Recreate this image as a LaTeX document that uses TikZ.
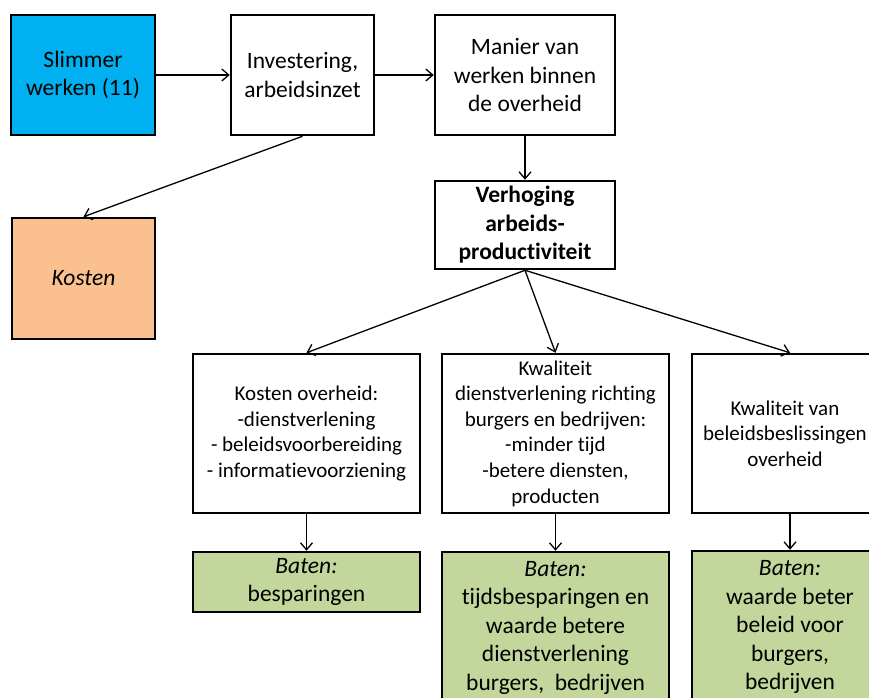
\documentclass[tikz,border=0pt]{standalone}
\usepackage{fontspec}
\setmainfont{Carlito}[Ligatures={TeX,NoCommon}]
\usetikzlibrary{arrows.meta}
\definecolor{cyanbox}{HTML}{00B0F0}
\definecolor{peachbox}{HTML}{FAC090}
\definecolor{greenbox}{HTML}{C3D69B}
\begin{document}
\begin{tikzpicture}[x=1pt,y=-1pt,
  box/.style={draw=black, line width=2.5pt, align=center, inner sep=2pt},
  bigtxt/.style={font=\fontsize{23.5}{28.5}\selectfont},
  smalltxt/.style={font=\fontsize{21}{25.6}\selectfont},
  conn/.style={line width=1.3pt, -{Straight Barb[length=7pt,width=12pt,line width=1.3pt]}}
]
\useasboundingbox (0,0) rectangle (869,697);
\clip (0,0) rectangle (869,697);
% top row
\node[box, bigtxt, fill=cyanbox, minimum width=144pt, minimum height=120pt] (slim) at (83,75) {Slimmer\\werken (11)};
\node[box, bigtxt, fill=white, minimum width=143pt, minimum height=120pt] (inv) at (302.5,75) {Investering,\\arbeidsinzet};
\node[box, bigtxt, fill=white, minimum width=180pt, minimum height=120pt] (man) at (525,75) {Manier van\\werken binnen\\de overheid};
\node[box, bigtxt, fill=white, minimum width=180pt, minimum height=88pt] (verh) at (525,225) {\bfseries Verhoging\\\bfseries arbeids-\\\bfseries productiviteit};
\node[box, bigtxt, fill=peachbox, minimum width=143pt, minimum height=121pt] (kost) at (83.5,278.5) {\itshape Kosten};
% middle row
\node[box, smalltxt, fill=white, minimum width=227pt, minimum height=159pt] (b1) at (306.5,433.5) {Kosten overheid:\\-dienstverlening\\- beleidsvoorbereiding\\- informatievoorziening};
\node[box, smalltxt, fill=white, minimum width=227pt, minimum height=159pt] (b2) at (555.5,433.5) {Kwaliteit\\dienstverlening richting\\burgers en bedrijven:\\-minder tijd\\-betere diensten,\\producten};
\node[box, fill=white, minimum width=196pt, minimum height=159pt] (b3) at (790,433.5) {};
\node[smalltxt, align=center, inner sep=0pt] (b3t) at (785,433.5) {Kwaliteit van\\beleidsbeslissingen\\overheid};
% bottom row
\node[box, bigtxt, fill=greenbox, minimum width=227pt, minimum height=60pt] (g1) at (306.5,582) {\itshape Baten:\\besparingen};
\node[box, bigtxt, fill=greenbox, minimum width=227pt, minimum height=151pt] (g2) at (555.5,627.5) {\itshape Baten:\\tijdsbesparingen en\\waarde betere\\dienstverlening\\burgers,~ bedrijven};
\node[box, bigtxt, fill=greenbox, minimum width=196pt, minimum height=152pt] (g3) at (790,627) {\itshape Baten:\\waarde beter\\beleid voor\\burgers,\\bedrijven};
% connectors
\draw[conn] (slim) -- (inv);
\draw[conn] (inv) -- (man);
\draw[conn] (man) -- (verh);
\draw[conn] (inv.south) -- (kost.north);
\draw[conn] (verh.south) -- (b1.north);
\draw[conn] (verh.south) -- (b2.north);
\draw[conn] (verh.south) -- (b3.north);
\draw[conn] (b1) -- (g1);
\draw[conn] (b2) -- (g2);
\draw[conn] (b3) -- (g3);
\end{tikzpicture}
\end{document}
